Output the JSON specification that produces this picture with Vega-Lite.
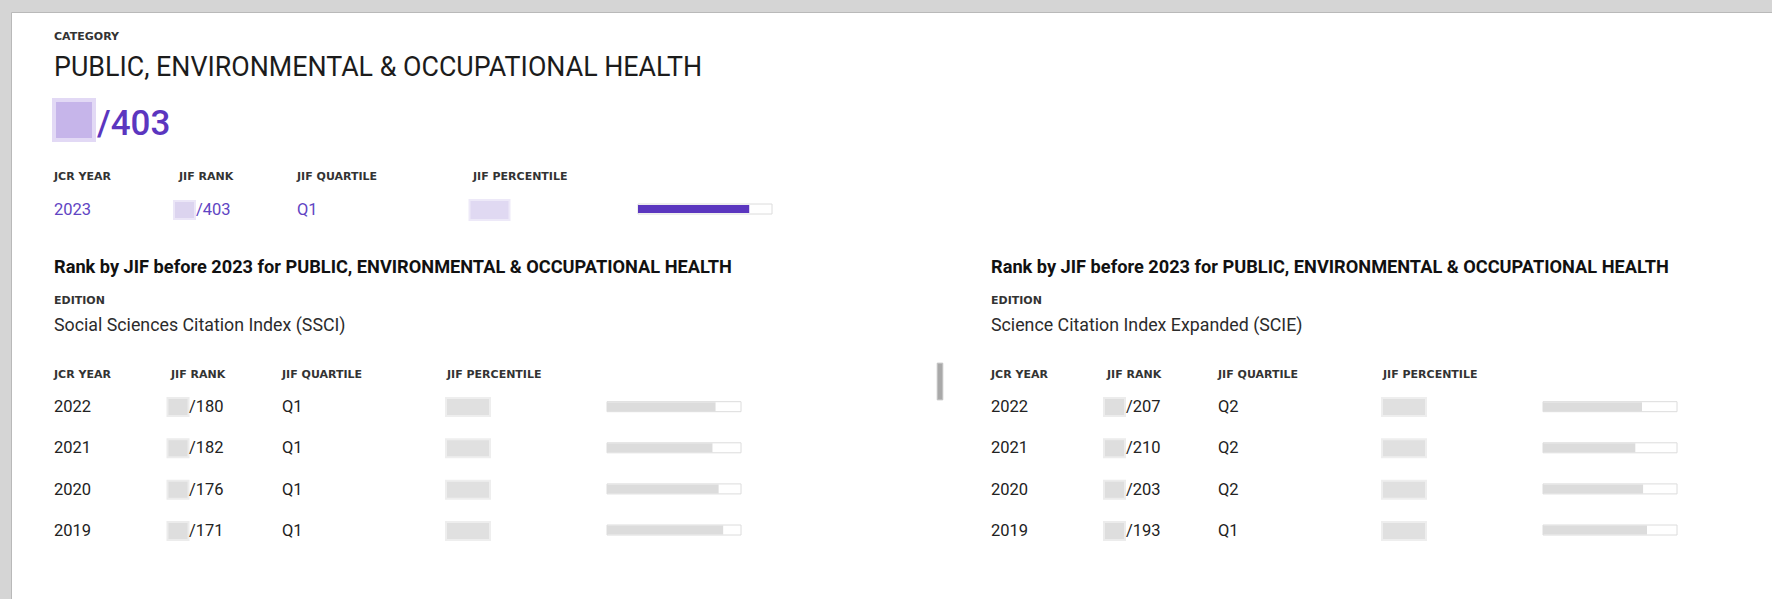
{
  "$schema": "https://vega.github.io/schema/vega-lite/v6.json",
  "width": 1762,
  "height": 588,
  "autosize": "none",
  "padding": {"left": 11, "top": 12, "right": 0, "bottom": 0},
  "background": "#d5d5d5",
  "config": {"view": {"fill": "#ffffff", "stroke": "#b9b9b9", "strokeWidth": 1}},
  "datasets": {
    "category": [{"level": "category", "caption": "CATEGORY", "name": "PUBLIC, ENVIRONMENTAL & OCCUPATIONAL HEALTH", "rank_shown": "/403"}],
    "current": [{"year": 2023, "rank_shown": "/403", "quartile": "Q1", "percentile": 83}],
    "history": [
      {"edition": "SSCI", "year": 2022, "rank_shown": "/180", "quartile": "Q1", "percentile": 81.0},
      {"edition": "SSCI", "year": 2021, "rank_shown": "/182", "quartile": "Q1", "percentile": 78.7},
      {"edition": "SSCI", "year": 2020, "rank_shown": "/176", "quartile": "Q1", "percentile": 83.3},
      {"edition": "SSCI", "year": 2019, "rank_shown": "/171", "quartile": "Q1", "percentile": 86.7},
      {"edition": "SCIE", "year": 2022, "rank_shown": "/207", "quartile": "Q2", "percentile": 73.9},
      {"edition": "SCIE", "year": 2021, "rank_shown": "/210", "quartile": "Q2", "percentile": 68.9},
      {"edition": "SCIE", "year": 2020, "rank_shown": "/203", "quartile": "Q2", "percentile": 74.7},
      {"edition": "SCIE", "year": 2019, "rank_shown": "/193", "quartile": "Q1", "percentile": 77.6}
    ],
    "editions": [
      {"edition": "SSCI", "label": "EDITION", "heading": "Rank by JIF before 2023 for PUBLIC, ENVIRONMENTAL & OCCUPATIONAL HEALTH", "name": "Social Sciences Citation Index (SSCI)"},
      {"edition": "SCIE", "label": "EDITION", "heading": "Rank by JIF before 2023 for PUBLIC, ENVIRONMENTAL & OCCUPATIONAL HEALTH", "name": "Science Citation Index Expanded (SCIE)"}
    ],
    "headers": [
      {"table": "current", "col": "year", "label": "JCR YEAR"},
      {"table": "current", "col": "rank", "label": "JIF RANK"},
      {"table": "current", "col": "quartile", "label": "JIF QUARTILE"},
      {"table": "current", "col": "percentile", "label": "JIF PERCENTILE"},
      {"table": "SSCI", "col": "year", "label": "JCR YEAR"},
      {"table": "SSCI", "col": "rank", "label": "JIF RANK"},
      {"table": "SSCI", "col": "quartile", "label": "JIF QUARTILE"},
      {"table": "SSCI", "col": "percentile", "label": "JIF PERCENTILE"},
      {"table": "SCIE", "col": "year", "label": "JCR YEAR"},
      {"table": "SCIE", "col": "rank", "label": "JIF RANK"},
      {"table": "SCIE", "col": "quartile", "label": "JIF QUARTILE"},
      {"table": "SCIE", "col": "percentile", "label": "JIF PERCENTILE"}
    ],
    "ui": [{"element": "scrollbar"}]
  },
  "resolve": {"scale": {"x": "independent", "y": "independent"}},
  "layer": [
    {
      "data": {"name": "category"},
      "mark": {"type": "text", "align": "left", "baseline": "middle", "font": "DejaVu Sans", "fontWeight": "bold", "fontSize": 11, "color": "#333333"},
      "encoding": {
        "x": {"field": "level", "type": "nominal", "scale": {"type": "point", "padding": 0, "domain": ["category"], "range": [43, 43]}, "axis": null},
        "y": {"field": "level", "type": "nominal", "scale": {"type": "point", "padding": 0, "domain": ["category"], "range": [25, 25]}, "axis": null},
        "text": {"field": "caption"}
      }
    },
    {
      "data": {"name": "category"},
      "mark": {"type": "text", "align": "left", "baseline": "middle", "font": "Roboto", "fontSize": 26.8, "color": "#1c1c1c"},
      "encoding": {
        "x": {"field": "level", "type": "nominal", "scale": {"type": "point", "padding": 0, "domain": ["category"], "range": [43, 43]}, "axis": null},
        "y": {"field": "level", "type": "nominal", "scale": {"type": "point", "padding": 0, "domain": ["category"], "range": [56, 56]}, "axis": null},
        "text": {"field": "name"}
      }
    },
    {
      "data": {"name": "category"},
      "mark": {"type": "point", "shape": "M-1,-1H1V1H-1Z", "filled": true, "size": 1600, "fill": "#c6b5ea", "stroke": "#e2d9f5", "strokeWidth": 4, "opacity": 1},
      "encoding": {
        "x": {"field": "level", "type": "nominal", "scale": {"type": "point", "padding": 0, "domain": ["category"], "range": [63, 63]}, "axis": null},
        "y": {"field": "level", "type": "nominal", "scale": {"type": "point", "padding": 0, "domain": ["category"], "range": [108, 108]}, "axis": null}
      }
    },
    {
      "data": {"name": "category"},
      "mark": {"type": "text", "align": "left", "baseline": "middle", "font": "Roboto", "fontWeight": 500, "fontSize": 35, "color": "#5b36bf"},
      "encoding": {
        "x": {"field": "level", "type": "nominal", "scale": {"type": "point", "padding": 0, "domain": ["category"], "range": [86, 86]}, "axis": null},
        "y": {"field": "level", "type": "nominal", "scale": {"type": "point", "padding": 0, "domain": ["category"], "range": [112, 112]}, "axis": null},
        "text": {"field": "rank_shown"}
      }
    },
    {
      "data": {"name": "headers"},
      "transform": [{"filter": "datum.table == 'current' && datum.col == 'year'"}],
      "mark": {"type": "text", "align": "left", "baseline": "middle", "font": "DejaVu Sans", "fontWeight": "bold", "fontSize": 11, "color": "#333333"},
      "encoding": {
        "x": {"field": "col", "type": "nominal", "scale": {"type": "point", "padding": 0, "domain": ["year"], "range": [43, 43]}, "axis": null},
        "y": {"field": "table", "type": "nominal", "scale": {"type": "point", "padding": 0, "domain": ["current"], "range": [164.5, 164.5]}, "axis": null},
        "text": {"field": "label"}
      }
    },
    {
      "data": {"name": "headers"},
      "transform": [{"filter": "datum.table == 'current' && datum.col == 'rank'"}],
      "mark": {"type": "text", "align": "left", "baseline": "middle", "font": "DejaVu Sans", "fontWeight": "bold", "fontSize": 11, "color": "#333333"},
      "encoding": {
        "x": {"field": "col", "type": "nominal", "scale": {"type": "point", "padding": 0, "domain": ["rank"], "range": [168, 168]}, "axis": null},
        "y": {"field": "table", "type": "nominal", "scale": {"type": "point", "padding": 0, "domain": ["current"], "range": [164.5, 164.5]}, "axis": null},
        "text": {"field": "label"}
      }
    },
    {
      "data": {"name": "headers"},
      "transform": [{"filter": "datum.table == 'current' && datum.col == 'quartile'"}],
      "mark": {"type": "text", "align": "left", "baseline": "middle", "font": "DejaVu Sans", "fontWeight": "bold", "fontSize": 11, "color": "#333333"},
      "encoding": {
        "x": {"field": "col", "type": "nominal", "scale": {"type": "point", "padding": 0, "domain": ["quartile"], "range": [286, 286]}, "axis": null},
        "y": {"field": "table", "type": "nominal", "scale": {"type": "point", "padding": 0, "domain": ["current"], "range": [164.5, 164.5]}, "axis": null},
        "text": {"field": "label"}
      }
    },
    {
      "data": {"name": "headers"},
      "transform": [{"filter": "datum.table == 'current' && datum.col == 'percentile'"}],
      "mark": {"type": "text", "align": "left", "baseline": "middle", "font": "DejaVu Sans", "fontWeight": "bold", "fontSize": 11, "color": "#333333"},
      "encoding": {
        "x": {"field": "col", "type": "nominal", "scale": {"type": "point", "padding": 0, "domain": ["percentile"], "range": [462, 462]}, "axis": null},
        "y": {"field": "table", "type": "nominal", "scale": {"type": "point", "padding": 0, "domain": ["current"], "range": [164.5, 164.5]}, "axis": null},
        "text": {"field": "label"}
      }
    },
    {
      "data": {"name": "current"},
      "mark": {"type": "text", "align": "left", "baseline": "middle", "font": "Roboto", "fontSize": 16.5, "color": "#6145c3"},
      "encoding": {
        "x": {"field": "year", "type": "ordinal", "scale": {"type": "point", "padding": 0, "domain": [2023], "range": [43, 43]}, "axis": null},
        "y": {"field": "year", "type": "ordinal", "scale": {"type": "point", "padding": 0, "domain": [2023], "range": [198, 198]}, "axis": null},
        "text": {"field": "year", "type": "ordinal"}
      }
    },
    {
      "data": {"name": "current"},
      "mark": {"type": "point", "shape": "M-1,-0.857H1V0.857H-1Z", "filled": true, "size": 441, "fill": "#dcd4ef", "stroke": "#ebe6f7", "strokeWidth": 2, "opacity": 1},
      "encoding": {
        "x": {"field": "year", "type": "ordinal", "scale": {"type": "point", "padding": 0, "domain": [2023], "range": [173.5, 173.5]}, "axis": null},
        "y": {"field": "year", "type": "ordinal", "scale": {"type": "point", "padding": 0, "domain": [2023], "range": [198, 198]}, "axis": null}
      }
    },
    {
      "data": {"name": "current"},
      "mark": {"type": "text", "align": "left", "baseline": "middle", "font": "Roboto", "fontSize": 16.5, "color": "#6145c3"},
      "encoding": {
        "x": {"field": "year", "type": "ordinal", "scale": {"type": "point", "padding": 0, "domain": [2023], "range": [185, 185]}, "axis": null},
        "y": {"field": "year", "type": "ordinal", "scale": {"type": "point", "padding": 0, "domain": [2023], "range": [198, 198]}, "axis": null},
        "text": {"field": "rank_shown"}
      }
    },
    {
      "data": {"name": "current"},
      "mark": {"type": "text", "align": "left", "baseline": "middle", "font": "Roboto", "fontSize": 16.5, "color": "#6145c3"},
      "encoding": {
        "x": {"field": "year", "type": "ordinal", "scale": {"type": "point", "padding": 0, "domain": [2023], "range": [286, 286]}, "axis": null},
        "y": {"field": "year", "type": "ordinal", "scale": {"type": "point", "padding": 0, "domain": [2023], "range": [198, 198]}, "axis": null},
        "text": {"field": "quartile"}
      }
    },
    {
      "data": {"name": "current"},
      "mark": {"type": "point", "shape": "M-1,-0.5H1V0.5H-1Z", "filled": true, "size": 1600, "fill": "#e0d9f2", "stroke": "#ede9f8", "strokeWidth": 2, "opacity": 1},
      "encoding": {
        "x": {"field": "year", "type": "ordinal", "scale": {"type": "point", "padding": 0, "domain": [2023], "range": [478.5, 478.5]}, "axis": null},
        "y": {"field": "year", "type": "ordinal", "scale": {"type": "point", "padding": 0, "domain": [2023], "range": [198, 198]}, "axis": null}
      }
    },
    {
      "data": {"name": "current"},
      "mark": {"type": "bar", "height": 10, "fill": "#ffffff", "stroke": "#dcdcdc", "strokeWidth": 1},
      "encoding": {
        "x": {"datum": 0, "type": "quantitative", "scale": {"domain": [0, 100], "range": [627, 761], "zero": false, "nice": false}, "axis": null},
        "x2": {"datum": 100},
        "y": {"field": "year", "type": "ordinal", "scale": {"type": "point", "padding": 0, "domain": [2023], "range": [197, 197]}, "axis": null}
      }
    },
    {
      "data": {"name": "current"},
      "mark": {"type": "bar", "height": 8, "fill": "#5b36bf"},
      "encoding": {
        "x": {"field": "percentile", "type": "quantitative", "scale": {"domain": [0, 100], "range": [627, 761], "zero": false, "nice": false}, "axis": null},
        "x2": {"datum": 0},
        "y": {"field": "year", "type": "ordinal", "scale": {"type": "point", "padding": 0, "domain": [2023], "range": [197, 197]}, "axis": null}
      }
    },
    {
      "data": {"name": "editions"},
      "mark": {"type": "text", "align": "left", "baseline": "middle", "font": "Roboto", "fontWeight": "bold", "fontSize": 18.2, "color": "#111111"},
      "encoding": {
        "x": {"field": "edition", "type": "nominal", "scale": {"type": "point", "padding": 0, "domain": ["SSCI", "SCIE"], "range": [43, 980]}, "axis": null},
        "y": {"field": "label", "type": "nominal", "scale": {"type": "point", "padding": 0, "domain": ["EDITION"], "range": [256, 256]}, "axis": null},
        "text": {"field": "heading"}
      }
    },
    {
      "data": {"name": "editions"},
      "mark": {"type": "text", "align": "left", "baseline": "middle", "font": "DejaVu Sans", "fontWeight": "bold", "fontSize": 11, "color": "#333333"},
      "encoding": {
        "x": {"field": "edition", "type": "nominal", "scale": {"type": "point", "padding": 0, "domain": ["SSCI", "SCIE"], "range": [43, 980]}, "axis": null},
        "y": {"field": "label", "type": "nominal", "scale": {"type": "point", "padding": 0, "domain": ["EDITION"], "range": [288.5, 288.5]}, "axis": null},
        "text": {"field": "label"}
      }
    },
    {
      "data": {"name": "editions"},
      "mark": {"type": "text", "align": "left", "baseline": "middle", "font": "Roboto", "fontSize": 17.8, "color": "#2b2b2b"},
      "encoding": {
        "x": {"field": "edition", "type": "nominal", "scale": {"type": "point", "padding": 0, "domain": ["SSCI", "SCIE"], "range": [43, 980]}, "axis": null},
        "y": {"field": "label", "type": "nominal", "scale": {"type": "point", "padding": 0, "domain": ["EDITION"], "range": [314, 314]}, "axis": null},
        "text": {"field": "name"}
      }
    },
    {
      "data": {"name": "headers"},
      "transform": [{"filter": "datum.table != 'current' && datum.col == 'year'"}],
      "mark": {"type": "text", "align": "left", "baseline": "middle", "font": "DejaVu Sans", "fontWeight": "bold", "fontSize": 11, "color": "#333333"},
      "encoding": {
        "x": {"field": "table", "type": "nominal", "scale": {"type": "point", "padding": 0, "domain": ["SSCI", "SCIE"], "range": [43, 980]}, "axis": null},
        "y": {"field": "col", "type": "nominal", "scale": {"type": "point", "padding": 0, "domain": ["year"], "range": [363, 363]}, "axis": null},
        "text": {"field": "label"}
      }
    },
    {
      "data": {"name": "headers"},
      "transform": [{"filter": "datum.table != 'current' && datum.col == 'rank'"}],
      "mark": {"type": "text", "align": "left", "baseline": "middle", "font": "DejaVu Sans", "fontWeight": "bold", "fontSize": 11, "color": "#333333"},
      "encoding": {
        "x": {"field": "table", "type": "nominal", "scale": {"type": "point", "padding": 0, "domain": ["SSCI", "SCIE"], "range": [160, 1096]}, "axis": null},
        "y": {"field": "col", "type": "nominal", "scale": {"type": "point", "padding": 0, "domain": ["rank"], "range": [363, 363]}, "axis": null},
        "text": {"field": "label"}
      }
    },
    {
      "data": {"name": "headers"},
      "transform": [{"filter": "datum.table != 'current' && datum.col == 'quartile'"}],
      "mark": {"type": "text", "align": "left", "baseline": "middle", "font": "DejaVu Sans", "fontWeight": "bold", "fontSize": 11, "color": "#333333"},
      "encoding": {
        "x": {"field": "table", "type": "nominal", "scale": {"type": "point", "padding": 0, "domain": ["SSCI", "SCIE"], "range": [271, 1207]}, "axis": null},
        "y": {"field": "col", "type": "nominal", "scale": {"type": "point", "padding": 0, "domain": ["quartile"], "range": [363, 363]}, "axis": null},
        "text": {"field": "label"}
      }
    },
    {
      "data": {"name": "headers"},
      "transform": [{"filter": "datum.table != 'current' && datum.col == 'percentile'"}],
      "mark": {"type": "text", "align": "left", "baseline": "middle", "font": "DejaVu Sans", "fontWeight": "bold", "fontSize": 11, "color": "#333333"},
      "encoding": {
        "x": {"field": "table", "type": "nominal", "scale": {"type": "point", "padding": 0, "domain": ["SSCI", "SCIE"], "range": [436, 1372]}, "axis": null},
        "y": {"field": "col", "type": "nominal", "scale": {"type": "point", "padding": 0, "domain": ["percentile"], "range": [363, 363]}, "axis": null},
        "text": {"field": "label"}
      }
    },
    {
      "data": {"name": "history"},
      "mark": {"type": "text", "align": "left", "baseline": "middle", "font": "Roboto", "fontSize": 16.5, "color": "#222222"},
      "encoding": {
        "x": {"field": "edition", "type": "nominal", "scale": {"type": "point", "padding": 0, "domain": ["SSCI", "SCIE"], "range": [43, 980]}, "axis": null},
        "y": {"field": "year", "type": "ordinal", "scale": {"type": "point", "padding": 0, "domain": [2022, 2021, 2020, 2019], "range": [395, 519]}, "axis": null},
        "text": {"field": "year", "type": "ordinal"}
      }
    },
    {
      "data": {"name": "history"},
      "mark": {"type": "point", "shape": "M-1,-0.857H1V0.857H-1Z", "filled": true, "size": 441, "fill": "#dedede", "stroke": "#ececec", "strokeWidth": 2, "opacity": 1},
      "encoding": {
        "x": {"field": "edition", "type": "nominal", "scale": {"type": "point", "padding": 0, "domain": ["SSCI", "SCIE"], "range": [167, 1103.5]}, "axis": null},
        "y": {"field": "year", "type": "ordinal", "scale": {"type": "point", "padding": 0, "domain": [2022, 2021, 2020, 2019], "range": [395, 519]}, "axis": null}
      }
    },
    {
      "data": {"name": "history"},
      "mark": {"type": "text", "align": "left", "baseline": "middle", "font": "Roboto", "fontSize": 16.5, "color": "#222222"},
      "encoding": {
        "x": {"field": "edition", "type": "nominal", "scale": {"type": "point", "padding": 0, "domain": ["SSCI", "SCIE"], "range": [178, 1115]}, "axis": null},
        "y": {"field": "year", "type": "ordinal", "scale": {"type": "point", "padding": 0, "domain": [2022, 2021, 2020, 2019], "range": [395, 519]}, "axis": null},
        "text": {"field": "rank_shown"}
      }
    },
    {
      "data": {"name": "history"},
      "mark": {"type": "text", "align": "left", "baseline": "middle", "font": "Roboto", "fontSize": 16.5, "color": "#222222"},
      "encoding": {
        "x": {"field": "edition", "type": "nominal", "scale": {"type": "point", "padding": 0, "domain": ["SSCI", "SCIE"], "range": [271, 1207]}, "axis": null},
        "y": {"field": "year", "type": "ordinal", "scale": {"type": "point", "padding": 0, "domain": [2022, 2021, 2020, 2019], "range": [395, 519]}, "axis": null},
        "text": {"field": "quartile"}
      }
    },
    {
      "data": {"name": "history"},
      "mark": {"type": "point", "shape": "M-1,-0.41H1V0.41H-1Z", "filled": true, "size": 1936, "fill": "#e0e0e0", "stroke": "#eeeeee", "strokeWidth": 2, "opacity": 1},
      "encoding": {
        "x": {"field": "edition", "type": "nominal", "scale": {"type": "point", "padding": 0, "domain": ["SSCI", "SCIE"], "range": [457, 1393]}, "axis": null},
        "y": {"field": "year", "type": "ordinal", "scale": {"type": "point", "padding": 0, "domain": [2022, 2021, 2020, 2019], "range": [395, 519]}, "axis": null}
      }
    },
    {
      "data": {"name": "history"},
      "transform": [{"filter": "datum.edition == 'SSCI'"}],
      "mark": {"type": "bar", "height": 10, "fill": "#ffffff", "stroke": "#dcdcdc", "strokeWidth": 1},
      "encoding": {
        "x": {"datum": 0, "type": "quantitative", "scale": {"domain": [0, 100], "range": [596, 730], "zero": false, "nice": false}, "axis": null},
        "x2": {"datum": 100},
        "y": {"field": "year", "type": "ordinal", "scale": {"type": "point", "padding": 0, "domain": [2022, 2021, 2020, 2019], "range": [394.7, 518]}, "axis": null}
      }
    },
    {
      "data": {"name": "history"},
      "transform": [{"filter": "datum.edition == 'SSCI'"}],
      "mark": {"type": "bar", "height": 9, "fill": "#dcdcdc"},
      "encoding": {
        "x": {"field": "percentile", "type": "quantitative", "scale": {"domain": [0, 100], "range": [596, 730], "zero": false, "nice": false}, "axis": null},
        "x2": {"datum": 0},
        "y": {"field": "year", "type": "ordinal", "scale": {"type": "point", "padding": 0, "domain": [2022, 2021, 2020, 2019], "range": [394.7, 518]}, "axis": null}
      }
    },
    {
      "data": {"name": "history"},
      "transform": [{"filter": "datum.edition == 'SCIE'"}],
      "mark": {"type": "bar", "height": 10, "fill": "#ffffff", "stroke": "#dcdcdc", "strokeWidth": 1},
      "encoding": {
        "x": {"datum": 0, "type": "quantitative", "scale": {"domain": [0, 100], "range": [1532, 1666], "zero": false, "nice": false}, "axis": null},
        "x2": {"datum": 100},
        "y": {"field": "year", "type": "ordinal", "scale": {"type": "point", "padding": 0, "domain": [2022, 2021, 2020, 2019], "range": [394.7, 518]}, "axis": null}
      }
    },
    {
      "data": {"name": "history"},
      "transform": [{"filter": "datum.edition == 'SCIE'"}],
      "mark": {"type": "bar", "height": 9, "fill": "#dcdcdc"},
      "encoding": {
        "x": {"field": "percentile", "type": "quantitative", "scale": {"domain": [0, 100], "range": [1532, 1666], "zero": false, "nice": false}, "axis": null},
        "x2": {"datum": 0},
        "y": {"field": "year", "type": "ordinal", "scale": {"type": "point", "padding": 0, "domain": [2022, 2021, 2020, 2019], "range": [394.7, 518]}, "axis": null}
      }
    },
    {
      "data": {"name": "ui"},
      "mark": {"type": "point", "shape": "M-1,-6.6H1V6.6H-1Z", "filled": true, "size": 31, "fill": "#a9a9a9", "stroke": "#c4c4c4", "strokeWidth": 1, "opacity": 1},
      "encoding": {
        "x": {"field": "element", "type": "nominal", "scale": {"type": "point", "padding": 0, "domain": ["scrollbar"], "range": [929, 929]}, "axis": null},
        "y": {"field": "element", "type": "nominal", "scale": {"type": "point", "padding": 0, "domain": ["scrollbar"], "range": [369.5, 369.5]}, "axis": null}
      }
    }
  ]
}
